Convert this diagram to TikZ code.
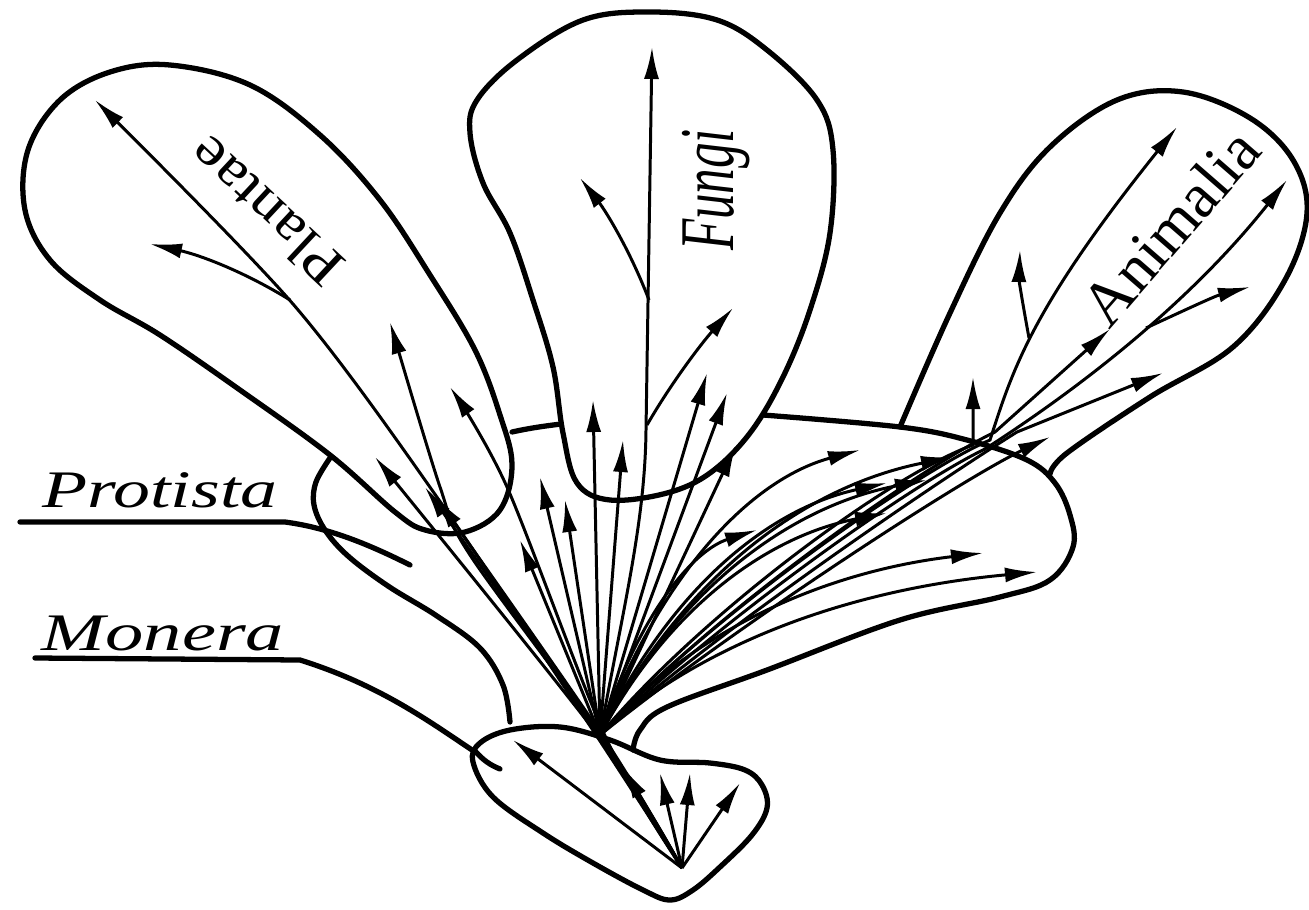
\documentclass[tikz,border=0pt]{standalone}
\usepackage{graphicx}
\usepackage{fontspec}
\setmainfont{Liberation Serif}
\usetikzlibrary{arrows.meta}

\tikzset{
  rand/.style={line width=1.5pt, line join=round, line cap=round},
  tak/.style={line width=0.85pt},
  pijl/.style={tak, -{Latex[length=3.2mm,width=1.5mm]}},
  naam/.style={inner sep=0pt},
}

\begin{document}
\begin{tikzpicture}[x=0.01cm, y=-0.01cm]
    \useasboundingbox (0,0) rectangle (1309,909);
    \coordinate (M0) at (682,868); % wortel Monera
    \coordinate (P0) at (600,735); % wortel Protista

    % Lobben
    \draw[rand] plot[smooth cycle, tension=0.6] coordinates {(170,65) (250,85) (320,135) (380,200) (430,275) (475,350) (500,415) (512,465) (500,510) (465,532) (425,530) (395,512) (330,455) (240,390) (160,335) (100,300) (50,260) (25,210) (28,150) (60,100) (110,72)};
    \draw[rand] plot[smooth cycle, tension=0.6] coordinates {(650,12) (717,20) (767,50) (817,100) (833,150) (830,233) (810,310) (783,377) (750,433) (710,473) (667,493) (610,500) (577,483) (563,433) (553,367) (533,300) (510,233) (483,183) (470,133) (477,100) (517,60) (583,20)};
    \draw[rand] plot[smooth, tension=0.6] coordinates {(900,427) (950,313) (1000,213) (1050,147) (1117,100) (1183,92) (1250,118) (1293,160) (1307,213) (1285,280) (1233,347) (1150,397) (1067,453) (1050,474)};

    % Protista
    \draw[rand] plot[smooth, tension=0.6] coordinates {(330,458) (316,482) (314,505) (325,530) (348,556) (388,586) (437,616) (480,648) (503,685) (510,722)};
    \draw[rand] (512,432) .. controls (530,428) and (545,426) .. (561,424);
    \draw[rand] plot[smooth, tension=0.6] coordinates {(763,415) (900,427) (967,440) (1027,460) (1055,483) (1070,515) (1073,547) (1050,580) (1000,597) (900,620) (767,670) (667,707) (640,730) (633,750)};

    % Monera
    \draw[rand] plot[smooth cycle, tension=0.6] coordinates {(480,743) (510,730) (560,727) (610,740) (660,760) (710,763) (745,770) (762,785) (767,808) (752,835) (720,867) (693,890) (670,900) (643,890) (593,863) (543,833) (493,797) (473,762)};
    \draw[rand] (475,751) .. controls (483,760) and (490,765) .. (500,769);

    % Namen
    \node[naam, rotate=137] (plantae) at (266,212) {\scalebox{1.15}[1]{\fontsize{16}{18}\selectfont Plantae}};
    \node[naam, rotate=90] (fungi) at (716,190) {\scalebox{0.66}[1]{\fontsize{22}{24}\selectfont\itshape Fungi}};
    \node[naam, rotate=49] (animalia) at (1170,227) {\fontsize{18}{20}\selectfont Animalia};
    \node[naam, anchor=base] (protista) at (160,507) {\scalebox{1.4}[1]{\fontsize{15}{18}\selectfont\itshape Protista}};
    \node[naam, anchor=base] (monera) at (163,650) {\scalebox{1.45}[1]{\fontsize{15}{18}\selectfont\itshape Monera}};
    \draw[rand] (20,522) -- (285,522) .. controls (330,528) and (370,545) .. (410,565);
    \draw[rand] (35,658) -- (300,660) .. controls (380,685) and (430,722) .. (475,752);

    % Plantae
    \draw[pijl] plot[smooth] coordinates {(M0) (598,738) (439,500) (293,304) (95,100)};
    \draw[pijl] (290,300) .. controls (245,272) and (200,255) .. (150,244);
    \draw[pijl] plot[smooth] coordinates {(M0) (603,738) (470,555) (440,487) (390,322)};
    \draw[pijl] plot[smooth] coordinates {(M0) (606,738) (507,487) (450,387)};
    \draw[pijl] plot[smooth] coordinates {(M0) (600,738) (375,457)};
    \draw[pijl] plot[smooth] coordinates {(M0) (601,738) (425,487)};
    \draw[pijl] plot[smooth] coordinates {(M0) (604,738) (436,497)};
    \draw[pijl] (P0) -- (520,540);
    \draw[pijl] (P0) -- (540,477);
    \draw[pijl] (P0) -- (565,500);

    % Fungi
    \draw[pijl] (P0) -- (593,400);
    \draw[pijl] (P0) -- (623,440);
    \draw[pijl] (P0) .. controls (625,600) and (645,520) .. (646,430) -- (652,47);
    \draw[pijl] (649,300) .. controls (630,250) and (605,210) .. (580,178);
    \draw[pijl] (647,425) .. controls (670,385) and (700,345) .. (733,308);
    \draw[pijl] (P0) -- (707,373);
    \draw[pijl] (P0) -- (727,393);
    \draw[pijl] (P0) -- (736,445);

    % Protista
    \draw[pijl] (P0) .. controls (639,612) and (694,550) .. (757,530);
    \draw[pijl] (P0) .. controls (665,564) and (756,478) .. (860,450);
    \draw[pijl] (P0) .. controls (672,584) and (772,508) .. (887,483);
    \draw[pijl] (P0) .. controls (672,602) and (772,535) .. (887,513);
    \draw[pijl] (P0) .. controls (682,582) and (796,505) .. (927,480);
    \draw[pijl] (P0) .. controls (688,568) and (812,485) .. (953,457);
    \draw[pijl] (P0) .. controls (696,626) and (830,571) .. (983,553);
    \draw[pijl] (P0) .. controls (709,637) and (862,588) .. (1037,572);

    % Animalia
    \draw[pijl] (P0) .. controls (700,615) and (890,475) .. (973,445) -- (973,377);
    \draw[pijl] (P0) .. controls (710,615) and (920,470) .. (990,440) .. controls (1012,372) and (1030,310) .. (1177,127);
    \draw[pijl] (1029,338) .. controls (1022,300) and (1019,280) .. (1020,250);
    \draw[pijl] (P0) .. controls (715,610) and (925,465) .. (995,432) -- (1110,329);
    \draw[pijl] (P0) .. controls (720,620) and (910,485) .. (985,449) .. controls (1100,375) and (1200,290) .. (1287,180);
    \draw[pijl] (1146,328) .. controls (1185,310) and (1215,296) .. (1250,287);
    \draw[pijl] (P0) .. controls (725,625) and (940,480) .. (1017,432) -- (1163,373);
    \draw[pijl] (P0) .. controls (730,630) and (960,480) .. (1050,437);

    % Monera
    \draw[tak] (M0) -- (P0);
    \draw[pijl] (M0) -- (513,740);
    \draw[pijl] (M0) -- (623,767);
    \draw[pijl] (M0) -- (660,773);
    \draw[pijl] (M0) -- (690,773);
    \draw[pijl] (M0) -- (740,783);
\end{tikzpicture}
\end{document}
